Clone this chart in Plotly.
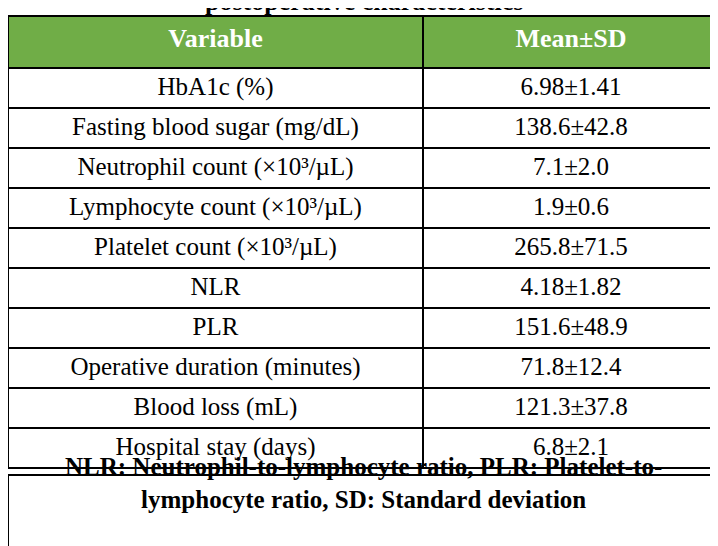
import plotly.graph_objects as go

variables = ["HbA1c (%)", "Fasting blood sugar (mg/dL)", "Neutrophil count (×10³/µL)",
             "Lymphocyte count (×10³/µL)", "Platelet count (×10³/µL)", "NLR", "PLR",
             "Operative duration (minutes)", "Blood loss (mL)", "Hospital stay (days)"]
mean_sd = ["6.98±1.41", "138.6±42.8", "7.1±2.0", "1.9±0.6", "265.8±71.5",
           "4.18±1.82", "151.6±48.9", "71.8±12.4", "121.3±37.8", "6.8±2.1"]
headers = ["<b>Variable</b>", "<b>Mean±SD</b>"]
footnote = ("<b>NLR: Neutrophil-to-lymphocyte ratio, PLR: Platelet-to-<br>"
            "lymphocyte ratio, SD: Standard deviation</b>")

W, H = 718, 546
right = 711 / W
top = 1 - 8 / H
serif = "Liberation Serif, Times New Roman, serif"

fig = go.Figure(go.Table(
    domain=dict(x=[0, right], y=[0, top]),
    columnwidth=[415, 296],
    header=dict(values=headers, fill_color="#70AD47", line=dict(color="black", width=2),
                font=dict(family=serif, size=26, color="white"),
                align="center", height=52),
    cells=dict(values=[variables, mean_sd], fill_color="white",
               line=dict(color="black", width=2),
               font=dict(family=serif, size=25, color="black"),
               align="center", height=40),
))

# footer box
fy0 = 1 - 546 / H
fy1 = 1 - 467 / H
fig.add_shape(type="rect", xref="paper", yref="paper", x0=0, x1=right, y0=fy0, y1=fy1,
              line=dict(color="black", width=2), fillcolor="white")
fig.add_annotation(text=footnote, xref="paper", yref="paper", x=right / 2, y=(fy0 + fy1) / 2,
                   showarrow=False, align="center",
                   font=dict(family=serif, size=25, color="black"))
# cut-off title
fig.add_annotation(text="<b>postoperative characteristics</b>", xref="paper", yref="paper",
                   x=right / 2, y=1.012, yanchor="middle", showarrow=False,
                   font=dict(family=serif, size=26, color="black"))

fig.update_layout(width=W, height=H, margin=dict(l=0, r=0, t=0, b=0),
                  paper_bgcolor="white")
fig.write_html("out.html")
